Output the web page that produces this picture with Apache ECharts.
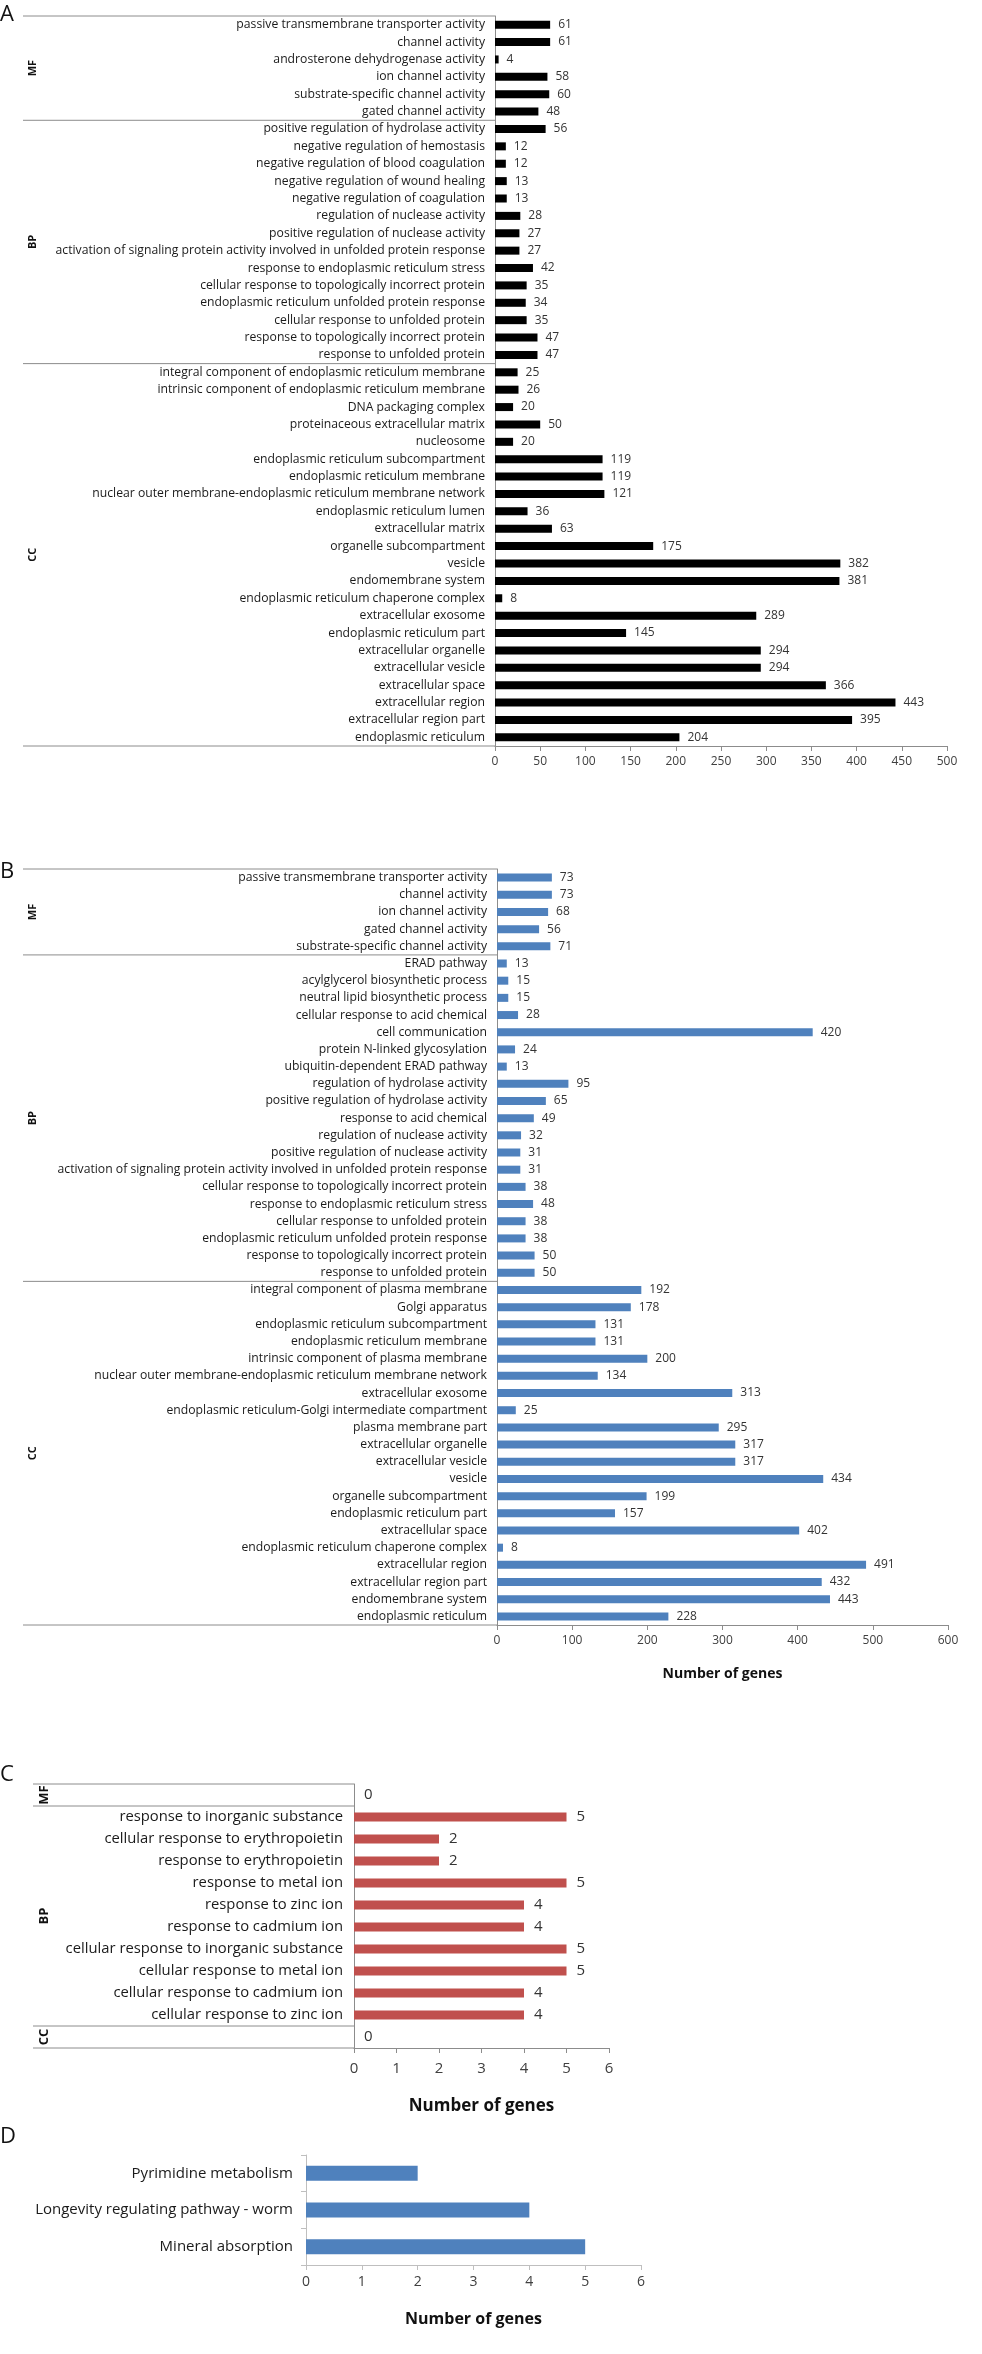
<!DOCTYPE html>
<html>
<head>
  <meta charset="utf-8">
  <title>GO / KEGG gene counts</title>
  <script src="https://cdn.jsdelivr.net/npm/echarts@6/dist/echarts.min.js"></script>
  <style>
    html, body { margin: 0; padding: 0; background: #fff; }
    #main { width: 982px; height: 2354px; }
  </style>
</head>
<body>
<div id="main"></div>
<script type="text/javascript">
// ---- panel A (black) ----
var catA = [
  'passive transmembrane transporter activity', 'channel activity', 'androsterone dehydrogenase activity',
  'ion channel activity', 'substrate-specific channel activity', 'gated channel activity',
  'positive regulation of hydrolase activity', 'negative regulation of hemostasis',
  'negative regulation of blood coagulation', 'negative regulation of wound healing',
  'negative regulation of coagulation', 'regulation of nuclease activity', 'positive regulation of nuclease activity',
  'activation of signaling protein activity involved in unfolded protein response',
  'response to endoplasmic reticulum stress', 'cellular response to topologically incorrect protein',
  'endoplasmic reticulum unfolded protein response', 'cellular response to unfolded protein',
  'response to topologically incorrect protein', 'response to unfolded protein',
  'integral component of endoplasmic reticulum membrane', 'intrinsic component of endoplasmic reticulum membrane',
  'DNA packaging complex', 'proteinaceous extracellular matrix', 'nucleosome',
  'endoplasmic reticulum subcompartment', 'endoplasmic reticulum membrane',
  'nuclear outer membrane-endoplasmic reticulum membrane network', 'endoplasmic reticulum lumen',
  'extracellular matrix', 'organelle subcompartment', 'vesicle', 'endomembrane system',
  'endoplasmic reticulum chaperone complex', 'extracellular exosome', 'endoplasmic reticulum part',
  'extracellular organelle', 'extracellular vesicle', 'extracellular space', 'extracellular region',
  'extracellular region part', 'endoplasmic reticulum'
];
var valA = [61, 61, 4, 58, 60, 48,
  56, 12, 12, 13, 13, 28, 27, 27, 42, 35, 34, 35, 47, 47,
  25, 26, 20, 50, 20, 119, 119, 121, 36, 63, 175, 382, 381, 8, 289, 145, 294, 294, 366, 443, 395, 204];
var grpA = [['MF', 6], ['BP', 14], ['CC', 22]];
var ticksA = [0, 500, 50];

// ---- panel B (blue) ----
var catB = [
  'passive transmembrane transporter activity', 'channel activity', 'ion channel activity',
  'gated channel activity', 'substrate-specific channel activity',
  'ERAD pathway', 'acylglycerol biosynthetic process', 'neutral lipid biosynthetic process',
  'cellular response to acid chemical', 'cell communication', 'protein N-linked glycosylation',
  'ubiquitin-dependent ERAD pathway', 'regulation of hydrolase activity', 'positive regulation of hydrolase activity',
  'response to acid chemical', 'regulation of nuclease activity', 'positive regulation of nuclease activity',
  'activation of signaling protein activity involved in unfolded protein response',
  'cellular response to topologically incorrect protein', 'response to endoplasmic reticulum stress',
  'cellular response to unfolded protein', 'endoplasmic reticulum unfolded protein response',
  'response to topologically incorrect protein', 'response to unfolded protein',
  'integral component of plasma membrane', 'Golgi apparatus', 'endoplasmic reticulum subcompartment',
  'endoplasmic reticulum membrane', 'intrinsic component of plasma membrane',
  'nuclear outer membrane-endoplasmic reticulum membrane network', 'extracellular exosome',
  'endoplasmic reticulum-Golgi intermediate compartment', 'plasma membrane part', 'extracellular organelle',
  'extracellular vesicle', 'vesicle', 'organelle subcompartment', 'endoplasmic reticulum part',
  'extracellular space', 'endoplasmic reticulum chaperone complex', 'extracellular region',
  'extracellular region part', 'endomembrane system', 'endoplasmic reticulum'
];
var valB = [73, 73, 68, 56, 71,
  13, 15, 15, 28, 420, 24, 13, 95, 65, 49, 32, 31, 31, 38, 48, 38, 38, 50, 50,
  192, 178, 131, 131, 200, 134, 313, 25, 295, 317, 317, 434, 199, 157, 402, 8, 491, 432, 443, 228];
var grpB = [['MF', 5], ['BP', 19], ['CC', 20]];
var ticksB = [0, 600, 100];

// ---- panel C (red) ----
var catC = ['', 'response to inorganic substance', 'cellular response to erythropoietin',
  'response to erythropoietin', 'response to metal ion', 'response to zinc ion', 'response to cadmium ion',
  'cellular response to inorganic substance', 'cellular response to metal ion',
  'cellular response to cadmium ion', 'cellular response to zinc ion', ' '];
var valC = [0, 5, 2, 2, 5, 4, 4, 5, 5, 4, 4, 0];
var grpC = [['MF', 1], ['BP', 10], ['CC', 1]];
var ticksC = [0, 6, 1];

// ---- panel D (KEGG) ----
var catD = ['Pyrimidine metabolism', 'Longevity regulating pathway - worm', 'Mineral absorption'];
var valD = [2, 4, 5];
var ticksD = [0, 6, 1];

var FONT = '"Open Sans", "Liberation Sans", sans-serif';
var LINE = '#8c8c8c';

var chart = echarts.init(document.getElementById('main'), null, {renderer: 'canvas'});

//每个面板的网格位置
var grids = [
  {left: 495, top: 16, width: 452, height: 730},
  {left: 497, top: 869, width: 451, height: 756},
  {left: 354, top: 1784, width: 255, height: 264},
  {left: 306, top: 2155, width: 335, height: 110}
];

function xAxisOf(i, ticks, fs, margin, nameFs, nameGap, lineColor) {
  return {
    gridIndex: i, type: 'value', min: ticks[0], max: ticks[1], interval: ticks[2],
    name: 'Number of genes', nameLocation: 'middle', nameGap: nameGap,
    nameTextStyle: {fontFamily: FONT, fontWeight: 'bold', fontSize: nameFs, color: '#111'},
    axisLine: {show: true, lineStyle: {color: lineColor, width: 1}},
    axisTick: {show: true, length: 5, inside: false, lineStyle: {color: lineColor}},
    axisLabel: {fontFamily: FONT, fontSize: fs, color: '#404040', margin: margin},
    splitLine: {show: false}
  };
}

function yAxisOf(i, cats, fs, margin, ticks, lineColor) {
  return {
    gridIndex: i, type: 'category', data: cats, inverse: true,
    axisLine: {show: true, lineStyle: {color: lineColor, width: 1}},
    axisTick: {show: ticks, length: 5, lineStyle: {color: lineColor}},
    axisLabel: {fontFamily: FONT, fontSize: fs, color: '#1a1a1a', margin: margin, interval: 0},
    splitLine: {show: false}
  };
}

function barOf(i, vals, color, w, fs, dist) {
  return {
    type: 'bar', xAxisIndex: i, yAxisIndex: i, data: vals, barWidth: w,
    itemStyle: {color: color},
    label: {show: fs > 0, position: 'right', distance: dist, fontFamily: FONT, fontSize: fs, color: '#333'},
    silent: true, animation: false
  };
}

chart.setOption({
  animation: false,
  grid: grids,
  xAxis: [
    xAxisOf(0, ticksA, 12, 10, 13, 43, LINE),
    xAxisOf(1, ticksB, 12, 10, 14, 42, LINE),
    xAxisOf(2, ticksC, 15, 13, 17, 50, LINE),
    xAxisOf(3, ticksD, 14, 10, 16, 46, '#bfbfbf')
  ],
  yAxis: [
    yAxisOf(0, catA, 12.2, 10, false, LINE),
    yAxisOf(1, catB, 12.2, 10, false, LINE),
    yAxisOf(2, catC, 14.8, 11, false, LINE),
    yAxisOf(3, catD, 15, 13, true, '#bfbfbf')
  ],
  series: [
    barOf(0, valA, '#000000', 8, 12, 8),
    barOf(1, valB, '#4F81BD', 8, 12, 8),
    barOf(2, valC, '#C0504D', 9, 15, 10),
    barOf(3, valD, '#4F81BD', 15, 0, 8)
  ]
});

//画分组线和分组名 (MF / BP / CC)
function groupGraphics(gi, groups, leftX, fs) {
  var out = [];
  var c0 = chart.convertToPixel({yAxisIndex: gi}, 0);
  var c1 = chart.convertToPixel({yAxisIndex: gi}, 1);
  var band = c1 - c0;
  var axisX = chart.convertToPixel({xAxisIndex: gi}, 0);
  var top = c0 - band / 2;
  var idx = 0;
  var st = {stroke: LINE, lineWidth: 1};
  // top border
  out.push({type: 'line', shape: {x1: leftX, y1: top, x2: axisX, y2: top}, style: st, z: 50});
  for (var k = 0; k < groups.length; k++) {
    var y0 = top + idx * band;
    idx += groups[k][1];
    var y1 = top + idx * band;
    out.push({type: 'line', shape: {x1: leftX, y1: y1, x2: axisX, y2: y1}, style: st, z: 50});
    out.push({
      type: 'text', x: leftX + fs * 0.9, y: (y0 + y1) / 2, rotation: Math.PI / 2, z: 50,
      style: {text: groups[k][0], x: 0, y: 0, align: 'center', verticalAlign: 'middle',
        font: 'bold ' + fs + 'px ' + FONT, fill: '#111'}
    });
  }
  return out;
}

function letter(txt, y) {
  return {type: 'text', x: 0, y: y, z: 50,
    style: {text: txt, x: 0, y: 0, align: 'left', verticalAlign: 'middle', font: '22px ' + FONT, fill: '#111'}};
}

var gfx = [];
gfx = gfx.concat(groupGraphics(0, grpA, 23, 11));
gfx = gfx.concat(groupGraphics(1, grpB, 23, 11));
gfx = gfx.concat(groupGraphics(2, grpC, 33, 13));
gfx.push(letter('A', 15), letter('B', 872), letter('C', 1775), letter('D', 2137));
// panel A: axis title is cut off at the bottom of the panel
gfx.push({type: 'rect', shape: {x: 0, y: 788, width: 982, height: 40}, style: {fill: '#fff'}, z: 100});

chart.setOption({graphic: gfx});
</script>
</body>
</html>
